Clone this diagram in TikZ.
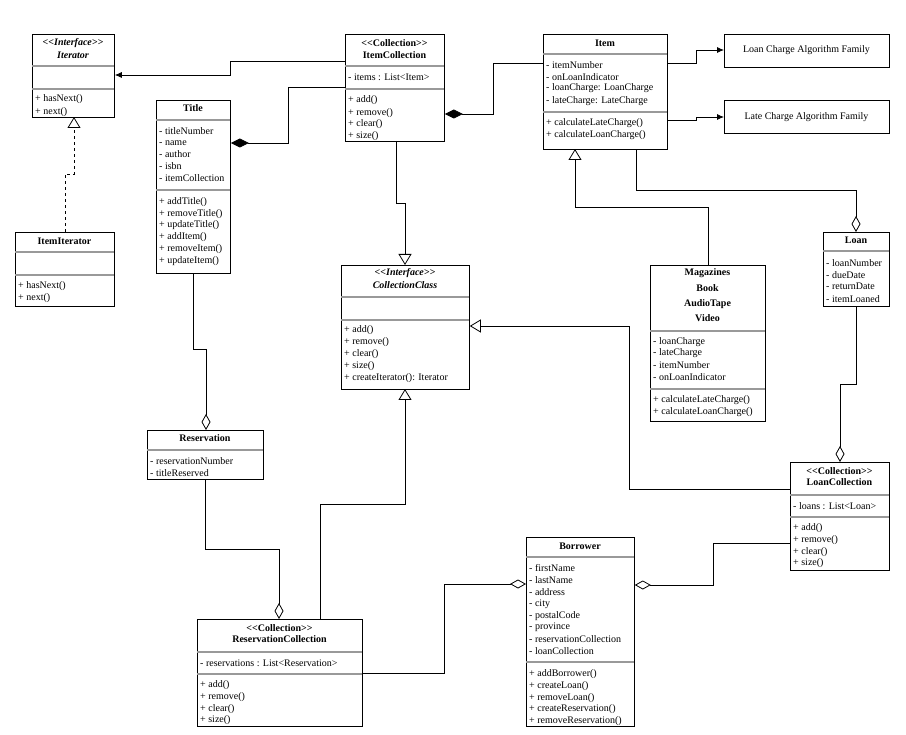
\documentclass[tikz,border=0pt]{standalone}
\usepackage{fontspec}
\setmainfont{Liberation Serif}
\usetikzlibrary{arrows.meta}
\newcounter{tc}
\tikzset{
  box/.style={draw,line width=0.8pt,inner sep=0pt,anchor=north west},
  sepl/.style={draw=gray!80,line width=1.6pt},
  lt/.style={anchor=west,inner sep=0pt,font=\fontsize{10}{11}\selectfont},
  ct/.style={anchor=center,inner sep=0pt,font=\fontsize{10}{11}\selectfont\bfseries},
  con/.style={line width=0.8pt},
  fill arrow/.style={con,-{Latex[length=7pt,width=6pt]}},
  gen/.style={con,-{Triangle[open,length=11pt,width=13pt]}},
  agg/.style={con,{Diamond[open,length=16pt,width=9pt]}-},
  comp/.style={con,{Diamond[length=18pt,width=9pt]}-},
}
\newcommand\tl[3]{\stepcounter{tc}\node[lt] (t\arabic{tc}) at (#1,#2) {#3};}
\newcommand\tc[3]{\stepcounter{tc}\node[ct] (t\arabic{tc}) at (#1,#2) {#3};}
\newcommand\sepa[3]{\draw[sepl] (#1,#3)--(#2,#3);}
\newcommand\stereo[1]{<{}<#1>{}>}
\begin{document}
\begin{tikzpicture}[x=1pt,y=-1pt]
\useasboundingbox (0,0) rectangle (906,735);
% Iterator
\node[box,minimum width=82pt,minimum height=83pt] (iter) at (32,34) {};
\tc{73}{43}{\itshape \stereo{Interface}}\tc{73}{55}{\itshape Iterator}
\sepa{32}{114}{66}\sepa{32}{114}{89}
\tl{35}{99}{+ hasNext()}\tl{35}{112}{+ next()}
% ItemCollection
\node[box,minimum width=99pt,minimum height=107pt] (ic) at (345,34) {};
\tc{394.5}{43}{\stereo{Collection}}\tc{394.5}{55}{ItemCollection}
\sepa{345}{444}{66}\sepa{345}{444}{89}
\tl{348}{77}{- items : List<Item>}
\tl{348}{100}{+ add()}\tl{348}{113}{+ remove()}\tl{348}{124}{+ clear()}\tl{348}{136}{+ size()}
% Title
\node[box,minimum width=74pt,minimum height=173pt] (title) at (156,100) {};
\tc{193}{108}{Title}
\sepa{156}{230}{120}\sepa{156}{230}{190}
\tl{159}{131}{- titleNumber}\tl{159}{143}{- name}\tl{159}{154}{- author}\tl{159}{166}{- isbn}\tl{159}{178}{- itemCollection}
\tl{159}{202}{+ addTitle()}\tl{159}{214}{+ removeTitle()}\tl{159}{225}{+ updateTitle()}\tl{159}{237}{+ addItem()}\tl{159}{249}{+ removeItem()}\tl{159}{261}{+ updateItem()}
% ItemIterator
\node[box,minimum width=99pt,minimum height=74pt] (ii) at (15,232) {};
\tc{64.5}{241}{ItemIterator}
\sepa{15}{114}{252}\sepa{15}{114}{275}
\tl{18}{286}{+ hasNext()}\tl{18}{298}{+ next()}
% Item
\node[box,minimum width=124pt,minimum height=115pt] (item) at (543,34) {};
\tc{605}{43}{Item}
\sepa{543}{667}{54}\sepa{543}{667}{112}
\tl{546}{65}{- itemNumber}\tl{546}{77}{- onLoanIndicator}\tl{546}{88}{- loanCharge: LoanCharge}\tl{546}{101}{- lateCharge: LateCharge}
\tl{546}{123}{+ calculateLateCharge()}\tl{546}{135}{+ calculateLoanCharge()}
% Algorithm families
\node[box,minimum width=165pt,minimum height=33pt] (lcf) at (724,34) {};
\tc{806.5}{50}{\mdseries Loan Charge Algorithm Family}
\node[box,minimum width=165pt,minimum height=33pt] (ltf) at (724,100) {};
\tc{806.5}{117}{\mdseries Late Charge Algorithm Family}
% CollectionClass
\node[box,minimum width=128pt,minimum height=124pt] (cc) at (341,265) {};
\tc{405}{273}{\itshape \stereo{Interface}}\tc{405}{285}{\itshape CollectionClass}
\sepa{341}{469}{297}\sepa{341}{469}{320}
\tl{344}{330}{+ add()}\tl{344}{342}{+ remove()}\tl{344}{354}{+ clear()}\tl{344}{366}{+ size()}\tl{344}{378}{+ createIterator(): Iterator}
% Magazines
\node[box,minimum width=115pt,minimum height=156pt] (mag) at (650,265) {};
\tc{707.5}{273}{Magazines}\tc{707.5}{288}{Book}\tc{707.5}{304}{AudioTape}\tc{707.5}{318}{Video}
\sepa{650}{765}{331}\sepa{650}{765}{389}
\tl{653}{342}{- loanCharge}\tl{653}{353}{- lateCharge}\tl{653}{365}{- itemNumber}\tl{653}{377}{- onLoanIndicator}
\tl{653}{400}{+ calculateLateCharge()}\tl{653}{412}{+ calculateLoanCharge()}
% Loan
\node[box,minimum width=66pt,minimum height=74pt] (loan) at (823,232) {};
\tc{856}{240}{Loan}
\sepa{823}{889}{251}
\tl{826}{263}{- loanNumber}\tl{826}{275}{- dueDate}\tl{826}{286}{- returnDate}\tl{826}{299}{- itemLoaned}
% Reservation
\node[box,minimum width=116pt,minimum height=49pt] (res) at (147,430) {};
\tc{205}{438}{Reservation}
\sepa{147}{263}{450}
\tl{150}{461}{- reservationNumber}\tl{150}{473}{- titleReserved}
% ReservationCollection
\node[box,minimum width=165pt,minimum height=107pt] (rc) at (197,619) {};
\tc{279.5}{628}{\stereo{Collection}}\tc{279.5}{639}{ReservationCollection}
\sepa{197}{362}{652}\sepa{197}{362}{674}
\tl{200}{663}{- reservations : List<Reservation>}
\tl{200}{685}{+ add()}\tl{200}{697}{+ remove()}\tl{200}{709}{+ clear()}\tl{200}{720}{+ size()}
% Borrower
\node[box,minimum width=108pt,minimum height=189pt] (bor) at (526,537) {};
\tc{580}{546}{Borrower}
\sepa{526}{634}{557}\sepa{526}{634}{662}
\tl{529}{568}{- firstName}\tl{529}{580}{- lastName}\tl{529}{592}{- address}\tl{529}{604}{- city}\tl{529}{616}{- postalCode}\tl{529}{627}{- province}\tl{529}{639}{- reservationCollection}\tl{529}{651}{- loanCollection}
\tl{529}{674}{+ addBorrower()}\tl{529}{686}{+ createLoan()}\tl{529}{698}{+ removeLoan()}\tl{529}{709}{+ createReservation()}\tl{529}{721}{+ removeReservation()}
% LoanCollection
\node[box,minimum width=99pt,minimum height=108pt] (lc) at (790,462) {};
\tc{839.5}{471}{\stereo{Collection}}\tc{839.5}{482}{LoanCollection}
\sepa{790}{889}{495}\sepa{790}{889}{517}
\tl{793}{506}{- loans : List<Loan>}
\tl{793}{528}{+ add()}\tl{793}{540}{+ remove()}\tl{793}{552}{+ clear()}\tl{793}{563}{+ size()}
% Connectors
\draw[fill arrow] (ic.west |- 0,61) -| (230,75) -- (iter.east |- 0,75);
\draw[comp] (title.east |- 0,143) -| (288,87) -- (ic.west |- 0,87);
\draw[comp] (ic.east |- 0,114) -| (493,63) -- (item.west |- 0,63);
\draw[gen] (396,141) |- (405,203) -- (405,265);
\draw[con,dashed,-{Triangle[open,length=11pt,width=13pt]}] (65,232) |- (74,174) -- (74,117);
\draw[fill arrow] (item.east |- 0,63) -| (696,50) -- (lcf.west |- 0,50);
\draw[fill arrow] (item.east |- 0,120) -| (696,117) -- (ltf.west |- 0,117);
\draw[gen] (708,265) |- (575,207) -- (575,149);
\draw[agg] (856,232) |- (636,190) -- (636,149);
\draw[agg] (840,462) |- (856,384) -- (856,306);
\draw[gen] (lc.west |- 0,489) -| (629,326) -- (cc.east |- 0,326);
\draw[agg] (206,430) |- (193,349) -- (193,273);
\draw[agg] (279,619) |- (205,549) -- (205,479);
\draw[gen] (320,619) |- (405,504) -- (405,389);
\draw[agg] (bor.west |- 0,584) -| (444,673) -- (rc.east |- 0,673);
\draw[agg] (bor.east |- 0,585) -| (713,543) -- (lc.west |- 0,543);
\end{tikzpicture}
\end{document}
